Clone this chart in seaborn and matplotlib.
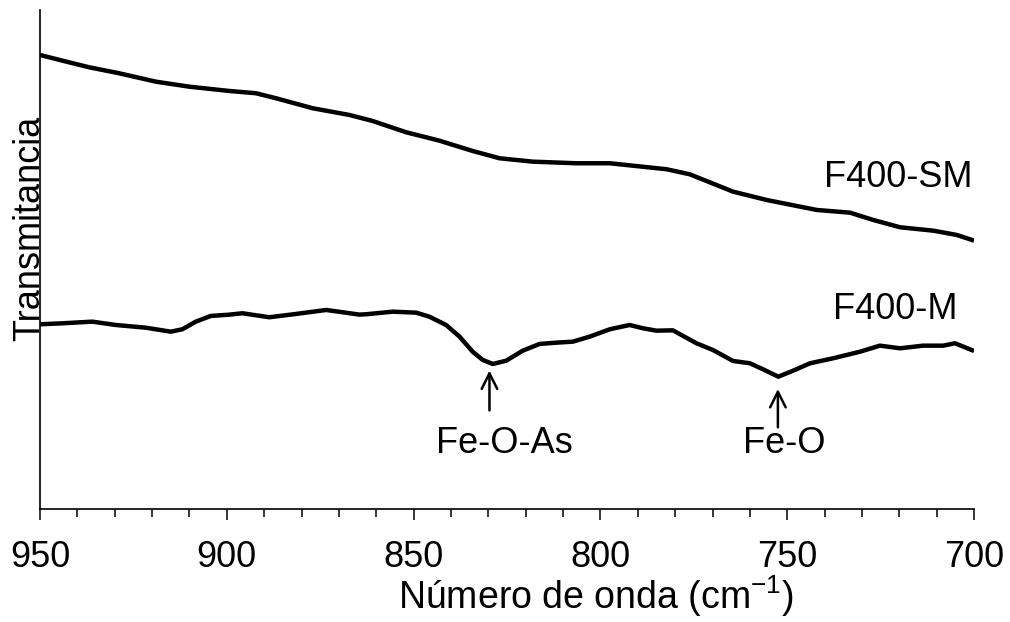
import matplotlib
matplotlib.use("Agg")
import matplotlib.pyplot as plt
import seaborn as sns
import pandas as pd
from matplotlib.ticker import MultipleLocator

# Espectros FTIR (unidades arbitrarias)
wn_sm = [950.0, 944.0, 936.9, 928.8, 919.0, 910.1, 899.4, 892.2, 886.8, 877.0,
         867.2, 861.0, 852.0, 843.1, 834.2, 827.0, 818.1, 806.5, 797.5, 782.3,
         776.1, 764.5, 755.5, 742.1, 733.2, 727.0, 719.8, 710.9, 704.6, 700.0]
t_sm = [90.98, 89.84, 88.52, 87.31, 85.63, 84.63, 83.77, 83.31, 82.30, 80.30,
        78.96, 77.76, 75.49, 73.81, 71.74, 70.28, 69.60, 69.28, 69.28, 68.08,
        67.07, 63.59, 61.92, 59.92, 59.38, 57.92, 56.45, 55.77, 54.91, 53.77]

wn_m = [950.0, 944.0, 936.0, 929.7, 921.7, 915.0, 911.9, 908.3, 904.3, 899.4,
        895.8, 888.6, 881.5, 873.4, 869.0, 864.5, 862.7, 855.6, 849.3, 845.8,
        841.3, 837.7, 834.2, 831.5, 828.8, 825.2, 820.8, 816.3, 811.8, 807.4,
        802.9, 797.5, 792.2, 788.6, 785.0, 780.6, 774.3, 769.9, 764.5, 760.0,
        756.5, 752.4, 748.4, 743.9, 737.7, 730.5, 725.2, 719.8, 713.6, 708.2,
        705.1, 700.0]
t_m = [37.01, 37.21, 37.54, 36.87, 36.33, 35.53, 36.01, 37.54, 38.68, 38.94,
       39.22, 38.42, 39.08, 39.88, 39.42, 38.95, 39.02, 39.54, 39.34, 38.54,
       36.87, 34.53, 31.52, 29.86, 29.06, 29.72, 31.72, 33.07, 33.33, 33.53,
       34.53, 36.01, 36.87, 36.21, 35.73, 35.80, 33.21, 31.86, 29.66, 29.20,
       28.00, 26.51, 27.72, 29.20, 30.20, 31.52, 32.73, 32.20, 32.73, 32.73,
       33.21, 31.66]

df = pd.concat([
    pd.DataFrame({"wn": wn_sm, "T": t_sm, "muestra": "F400-SM"}),
    pd.DataFrame({"wn": wn_m, "T": t_m, "muestra": "F400-M"}),
])

sns.set_style("white")
plt.rcParams["font.family"] = ["Liberation Sans", "DejaVu Sans"]
plt.rcParams["mathtext.fontset"] = "custom"
plt.rcParams["mathtext.rm"] = "Liberation Sans"
plt.rcParams["mathtext.it"] = "Liberation Sans"
plt.rcParams["text.color"] = "black"
plt.rcParams["axes.labelcolor"] = "black"
plt.rcParams["xtick.color"] = "black"

fig = plt.figure(figsize=(10.10, 6.22), dpi=100)
ax = fig.add_axes([0.0396, 0.1817, 0.9248, 0.8023])

sns.lineplot(data=df, x="wn", y="T", units="muestra", estimator=None,
             color="black", lw=3.2, sort=False, ax=ax, legend=False)
for line in ax.lines:
    line.set_solid_joinstyle("round")
    line.set_solid_capstyle("butt")

ax.set_xlim(950, 700)
ax.set_ylim(0, 100)
ax.xaxis.set_major_locator(MultipleLocator(50))
ax.xaxis.set_minor_locator(MultipleLocator(10))
ax.tick_params(axis="x", which="major", direction="out", length=8, width=1.1,
               labelsize=26, pad=14, bottom=True, color="black", labelcolor="black")
ax.tick_params(axis="x", which="minor", direction="out", length=5.5, width=1.1,
               bottom=True, color="black")
ax.set_yticks([])

for s in ["top", "right"]:
    ax.spines[s].set_visible(False)
for s in ["left", "bottom"]:
    ax.spines[s].set_color("black")
    ax.spines[s].set_linewidth(1.2)

ax.set_xlabel("Número de onda (cm$^{-1}$)", fontsize=27)
ax.xaxis.set_label_coords(0.595, -0.13)
ax.set_ylabel("Transmitancia", fontsize=26)
ax.yaxis.set_label_coords(0.008, 0.563)

ax.text(720.4, 66.5, "F400-SM", fontsize=26, ha="center", va="center")
ax.text(721.2, 39.9, "F400-M", fontsize=26, ha="center", va="center")

ax.annotate("", xy=(829.7, 28.3), xytext=(829.7, 19.2),
            arrowprops=dict(arrowstyle="->", color="black", lw=1.8,
                            mutation_scale=28))
ax.annotate("", xy=(752.5, 24.6), xytext=(752.5, 15.8),
            arrowprops=dict(arrowstyle="->", color="black", lw=1.8,
                            mutation_scale=28))
ax.text(825.7, 13.2, "Fe-O-As", fontsize=26, ha="center", va="center")
ax.text(750.9, 13.2, "Fe-O", fontsize=26, ha="center", va="center")

fig.savefig("out.png", dpi=100)
